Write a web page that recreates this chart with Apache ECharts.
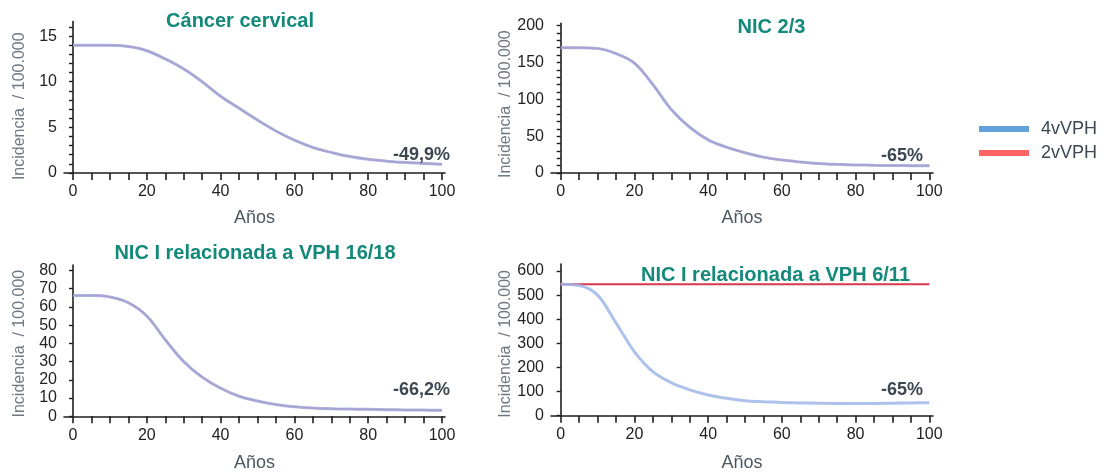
<!DOCTYPE html>
<html>
<head>
<meta charset="utf-8">
<style>
  html, body { margin: 0; padding: 0; background: #fff; }
  #chart { width: 1104px; height: 475px; }
</style>
<script src="https://cdn.jsdelivr.net/npm/echarts@6/dist/echarts.min.js"></script>
</head>
<body>
<div id="chart"></div>
<script>
// years on the x axis (one point every 5 years)
const years = [0, 5, 10, 15, 20, 25, 30, 35, 40, 45, 50, 55, 60, 65, 70, 75, 80, 85, 90, 95, 100]
const yearLabels = [0, 20, 40, 60, 80, 100]
const yearTicks = [0, 5, 10, 15, 20, 25, 30, 35, 40, 45, 50, 55, 60, 65, 70, 75, 80, 85, 90, 95, 100]

// Cáncer cervical
const cervical4v = [14.0, 14.0, 14.0, 13.85, 13.4, 12.5, 11.4, 10.0, 8.4, 7.1, 5.8, 4.6, 3.6, 2.8, 2.25, 1.8, 1.5, 1.3, 1.15, 1.05, 0.95]
const cervical2v = [14.0, 14.0, 14.0, 13.85, 13.4, 12.5, 11.4, 10.0, 8.4, 7.1, 5.8, 4.6, 3.6, 2.8, 2.25, 1.8, 1.5, 1.3, 1.15, 1.05, 0.95]
const cervicalLabels = [0, 5, 10, 15]
const cervicalTicks = [0, 1, 2, 3, 4, 5, 6, 7, 8, 9, 10, 11, 12, 13, 14, 15, 16]

// NIC 2/3
const nic23_4v = [170, 170, 169, 162, 149, 120, 86, 62, 45, 35, 27.5, 21.5, 17.5, 15, 13, 11.8, 11, 10.5, 10.2, 10, 9.9]
const nic23_2v = [170, 170, 169, 162, 149, 120, 86, 62, 45, 35, 27.5, 21.5, 17.5, 15, 13, 11.8, 11, 10.5, 10.2, 10, 9.9]
const nic23Labels = [0, 50, 100, 150, 200]
const nic23Ticks = [0, 10, 20, 30, 40, 50, 60, 70, 80, 90, 100, 110, 120, 130, 140, 150, 160, 170, 180, 190, 200]

// NIC I relacionada a VPH 16/18
const nic1618_4v = [66.2, 66.2, 65.5, 62.3, 55, 42, 30, 21.5, 15.4, 11, 8.4, 6.5, 5.3, 4.6, 4.2, 4.0, 3.8, 3.6, 3.5, 3.4, 3.3]
const nic1618_2v = [66.2, 66.2, 65.5, 62.3, 55, 42, 30, 21.5, 15.4, 11, 8.4, 6.5, 5.3, 4.6, 4.2, 4.0, 3.8, 3.6, 3.5, 3.4, 3.3]
const nic1618Labels = [0, 10, 20, 30, 40, 50, 60, 70, 80]

// NIC I relacionada a VPH 6/11
const nic611_4v = [545, 540, 500, 385, 265, 183, 137, 107, 86, 72, 62, 58, 55, 53, 52, 51, 51, 51, 52, 53, 54]
const nic611_2v = [545, 545, 545, 545, 545, 545, 545, 545, 545, 545, 545, 545, 545, 545, 545, 545, 545, 545, 545, 545, 545]
const nic611Labels = [0, 100, 200, 300, 400, 500, 600]

const font = '"Liberation Sans", Arial, sans-serif'
const yName = 'Incidencia  / 100.000'

const panels = [
  { title: 'Cáncer cervical', v4: cervical4v, v2: cervical2v, labels: cervicalLabels, ticks: cervicalTicks,
    grid: { left: 64, top: 21.5, width: 381, height: 151.5 }, xMin: -2.44, xMax: 100.81, yMax: 16.6, namePad: 18, xGap: 36 },
  { title: 'NIC 2/3', v4: nic23_4v, v2: nic23_2v, labels: nic23Labels, ticks: nic23Ticks,
    grid: { left: 551, top: 23.3, width: 382, height: 149.7 }, xMin: -2.63, xMax: 101, yMax: 203, namePad: 12, xGap: 36 },
  { title: 'NIC I relacionada a VPH 16/18', v4: nic1618_4v, v2: nic1618_2v, labels: nic1618Labels, ticks: nic1618Labels,
    grid: { left: 64, top: 265, width: 381, height: 151.3 }, xMin: -2.44, xMax: 100.81, yMax: 83, namePad: 6, xGap: 38 },
  { title: 'NIC I relacionada a VPH 6/11', v4: nic611_4v, v2: nic611_2v, labels: nic611Labels, ticks: nic611Labels,
    grid: { left: 551, top: 264, width: 382, height: 151.7 }, xMin: -2.63, xMax: 101, yMax: 629, namePad: 8, xGap: 38 }
]

const axisLine = { lineStyle: { color: '#1e1e1e', width: 1.6 } }

const grid = panels.map(p => p.grid)

const xAxis = panels.map((p, i) => ({
  type: 'value',
  gridIndex: i,
  min: p.xMin,
  max: p.xMax,
  name: 'Años',
  nameLocation: 'middle',
  nameGap: p.xGap,
  nameTextStyle: { fontFamily: font, fontSize: 18, color: '#4d5761' },
  axisLine,
  axisTick: { length: 7, customValues: yearTicks, lineStyle: { color: '#1e1e1e', width: 1.6 } },
  axisLabel: { customValues: yearLabels, margin: 11, fontFamily: font, fontSize: 16, color: '#222' },
  splitLine: { show: false }
}))

const yAxis = panels.map((p, i) => ({
  type: 'value',
  gridIndex: i,
  min: 0,
  max: p.yMax,
  name: yName,
  nameLocation: 'middle',
  nameGap: 36,
  nameTextStyle: { fontFamily: font, fontSize: 16, color: '#6f7882', padding: [0, p.namePad, 0, 0] },
  axisLine: { show: true, lineStyle: { color: '#1e1e1e', width: 1.6 } },
  axisTick: { show: true, length: 4, customValues: p.ticks, lineStyle: { color: '#1e1e1e', width: 1.4 } },
  axisLabel: { customValues: p.labels, margin: 7, fontFamily: font, fontSize: 16, color: '#222' },
  splitLine: { show: false }
}))

const series = []
panels.forEach((p, i) => {
  series.push({
    name: '2vVPH',
    type: 'line',
    xAxisIndex: i,
    yAxisIndex: i,
    data: years.map((y, k) => [y, p.v2[k]]),
    smooth: 0.35,
    showSymbol: false,
    lineStyle: { color: '#d6394f', width: 2 }
  })
  series.push({
    name: '4vVPH',
    type: 'line',
    xAxisIndex: i,
    yAxisIndex: i,
    data: years.map((y, k) => [y, p.v4[k]]),
    smooth: 0.35,
    showSymbol: false,
    lineStyle: { color: 'rgba(160, 182, 232, 0.85)', width: 3 }
  })
})

const titleStyle = { fontFamily: font, fontSize: 20, fontWeight: 'bold', color: '#13897a', lineHeight: 24 }
const noteStyle = { fontFamily: font, fontSize: 18, fontWeight: 'bold', color: '#3c4752', lineHeight: 22 }

const title = [
  { text: 'Cáncer cervical', left: 240, top: 9, textAlign: 'center', padding: 0, textStyle: titleStyle },
  { text: 'NIC 2/3', left: 771.5, top: 15, textAlign: 'center', padding: 0, textStyle: titleStyle },
  { text: 'NIC I relacionada a VPH 16/18', left: 255, top: 241, textAlign: 'center', padding: 0, textStyle: titleStyle },
  { text: 'NIC I relacionada a VPH 6/11', left: 775.5, top: 263, textAlign: 'center', padding: 0, textStyle: titleStyle },
  { text: '-49,9%', left: 393, top: 144, padding: 0, textStyle: noteStyle },
  { text: '-65%', left: 881, top: 145, padding: 0, textStyle: noteStyle },
  { text: '-66,2%', left: 393, top: 379, padding: 0, textStyle: noteStyle },
  { text: '-65%', left: 881, top: 379, padding: 0, textStyle: noteStyle }
]

const chart = echarts.init(document.getElementById('chart'))
chart.setOption({
  animation: false,
  title,
  legend: {
    orient: 'vertical',
    left: 979,
    top: 119,
    padding: 0,
    itemWidth: 50,
    itemHeight: 6,
    itemGap: 4,
    data: [
      { name: '4vVPH', icon: 'rect', itemStyle: { color: '#62a3db' } },
      { name: '2vVPH', icon: 'rect', itemStyle: { color: '#ff6464' } }
    ],
    textStyle: { fontFamily: font, fontSize: 18, color: '#3c4650', lineHeight: 20, padding: [0, 0, 0, 7] }
  },
  grid,
  xAxis,
  yAxis,
  series
})
</script>
</body>
</html>
